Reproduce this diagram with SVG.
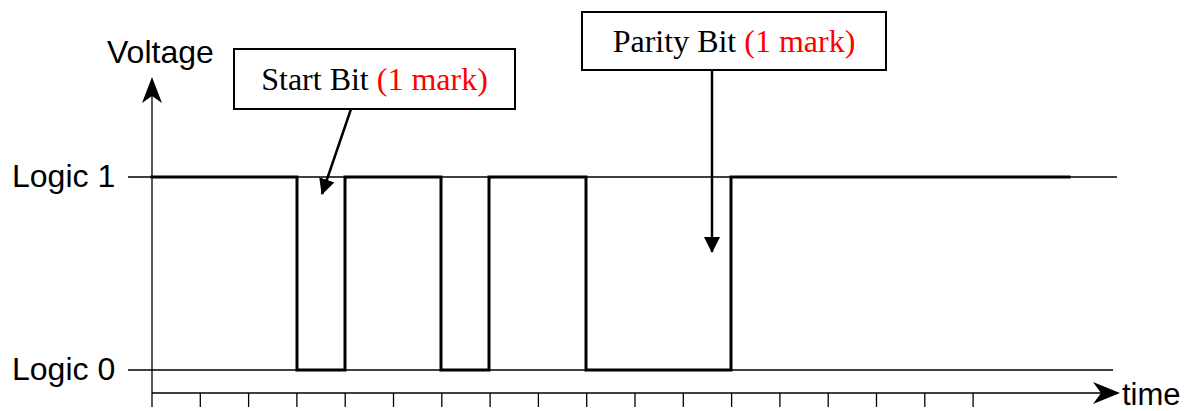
<svg xmlns="http://www.w3.org/2000/svg" width="1202" height="411" viewBox="0 0 1202 411">
<style>
.thin{stroke:#000;stroke-width:1.3;fill:none}
.sig{stroke:#000;stroke-width:3;fill:none;stroke-linejoin:miter;stroke-linecap:square}
.lbl{font-family:"Liberation Sans",Arial,sans-serif;font-size:32px;fill:#000}
.box{fill:#fff;stroke:#000;stroke-width:2}
.bt{font-family:"Liberation Serif","Times New Roman",serif;font-size:32px;fill:#000}
.red{fill:#f00}
.ptr{stroke:#000;stroke-width:2.5;fill:none}
</style>
<defs>
<marker id="ah" markerWidth="18" markerHeight="18" refX="15" refY="8" orient="auto" markerUnits="userSpaceOnUse">
<path d="M0,0 L16,8 L0,16 Z" fill="#000"/>
</marker>
</defs>
<g id="axes">
<line class="thin" x1="152" y1="90" x2="152" y2="407"/>
<path d="M152,77 L162,103 L152,96 L142,103 Z" fill="#000"/>
<line class="thin" x1="152" y1="393" x2="1105" y2="393"/>
<path d="M1120,393 L1093,382 L1101,393 L1093,404 Z" fill="#000"/>
<g id="ticks" class="thin">
<line x1="200.3" y1="393" x2="200.3" y2="407"/>
<line x1="248.6" y1="393" x2="248.6" y2="407"/>
<line x1="296.9" y1="393" x2="296.9" y2="407"/>
<line x1="345.2" y1="393" x2="345.2" y2="407"/>
<line x1="393.5" y1="393" x2="393.5" y2="407"/>
<line x1="441.8" y1="393" x2="441.8" y2="407"/>
<line x1="490.1" y1="393" x2="490.1" y2="407"/>
<line x1="538.4" y1="393" x2="538.4" y2="407"/>
<line x1="586.7" y1="393" x2="586.7" y2="407"/>
<line x1="635" y1="393" x2="635" y2="407"/>
<line x1="683.3" y1="393" x2="683.3" y2="407"/>
<line x1="731.6" y1="393" x2="731.6" y2="407"/>
<line x1="779.9" y1="393" x2="779.9" y2="407"/>
<line x1="828.2" y1="393" x2="828.2" y2="407"/>
<line x1="876.5" y1="393" x2="876.5" y2="407"/>
<line x1="924.8" y1="393" x2="924.8" y2="407"/>
<line x1="973.1" y1="393" x2="973.1" y2="407"/>
</g>
<line class="thin" x1="128" y1="177" x2="1117" y2="177"/>
<line class="thin" x1="128" y1="370" x2="1113" y2="370"/>
<text class="lbl" x="107" y="63">Voltage</text>
<text class="lbl" x="12" y="187">Logic 1</text>
<text class="lbl" x="12" y="380">Logic 0</text>
<text class="lbl" x="1122" y="405" style="font-size:31px">time</text>
</g>
<g id="signal">
<polyline class="sig" points="152,177 297,177 297,370 345,370 345,177 441,177 441,370 489,370 489,177 586,177 586,370 731,370 731,177 1069,177"/>
</g>
<g id="connectors">
<line class="ptr" x1="351" y1="109" x2="322" y2="194" marker-end="url(#ah)"/>
<line class="ptr" x1="712" y1="70" x2="712" y2="252" marker-end="url(#ah)"/>
</g>
<g id="start-bit">
<rect class="box" x="234" y="49" width="281" height="60"/>
<text class="bt" x="374.5" y="90" text-anchor="middle">Start Bit <tspan class="red">(1 mark)</tspan></text>
</g>
<g id="parity-bit">
<rect class="box" x="582" y="12" width="304" height="58"/>
<text class="bt" x="734" y="52" text-anchor="middle">Parity Bit <tspan class="red">(1 mark)</tspan></text>
</g>
</svg>
